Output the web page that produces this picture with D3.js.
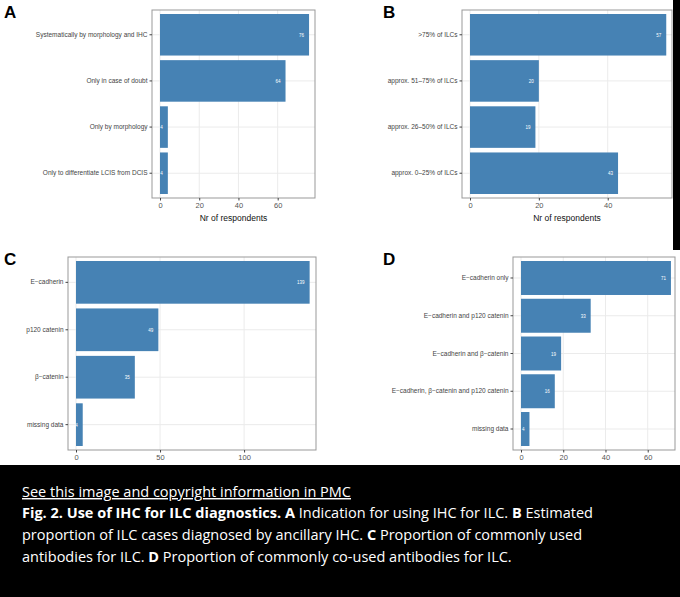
<!DOCTYPE html>
<html><head><meta charset="utf-8">
<script src="https://cdn.jsdelivr.net/npm/d3@7"></script>
<style>body{margin:0;background:#000}svg{display:block}</style>
</head><body><svg id="c" width="680" height="597"></svg>
<script>
const catsA=["Systematically by morphology and IHC","Only in case of doubt","Only by morphology","Only  to differentiate LCIS from DCIS"];
const valsA=[76,64,4,4];
const catsB=[">75% of ILCs","approx. 51\u201375% of ILCs","approx. 26\u201350% of ILCs","approx. 0\u201325% of ILCs"];
const valsB=[57,20,19,43];
const catsC=["E\u2212cadherin","p120 catenin","\u03b2\u2212catenin","missing data"];
const valsC=[139,49,35,4];
const catsD=["E\u2212cadherin only","E\u2212cadherin and p120 catenin","E\u2212cadherin and \u03b2\u2212catenin","E\u2212cadherin, \u03b2\u2212catenin and p120 catenin","missing data"];
const valsD=[71,33,19,16,4];
const ticksA=[0,20,40,60],ticksB=[0,20,40],ticksC=[0,50,100],ticksD=[0,20,40,60];

const svg=d3.select("#c");
svg.append("rect").attr("width",680).attr("height",465).attr("fill","#fff");

function panel(letter,lx,ly,box,cats,vals,ticks,xmax){
  const g=svg.append("g");
  const x=d3.scaleLinear().domain([0,xmax]).range([box.x0+8,box.x1-3]);
  const y=d3.scaleBand().domain(cats).range([box.y0+4,box.y1-4]).paddingInner(0.1);
  g.append("text").attr("x",lx).attr("y",ly).text(letter).attr("font-family","Liberation Sans, Arial").attr("font-weight","bold").attr("font-size",17).attr("fill","#000");
  g.selectAll(".gv").data(ticks).join("line").attr("x1",d=>x(d)).attr("x2",d=>x(d)).attr("y1",box.y0).attr("y2",box.y1).attr("stroke","#ebebeb");
  g.selectAll(".gh").data(cats).join("line").attr("x1",box.x0).attr("x2",box.x1).attr("y1",d=>y(d)+y.bandwidth()/2).attr("y2",d=>y(d)+y.bandwidth()/2).attr("stroke","#ebebeb");
  g.selectAll(".b").data(cats).join("rect").attr("x",x(0)).attr("y",d=>y(d)).attr("width",(d,i)=>x(vals[i])-x(0)).attr("height",y.bandwidth()).attr("fill","#4682b4");
  g.selectAll(".bl").data(cats).join("text").attr("x",(d,i)=>x(vals[i])-5).attr("y",d=>y(d)+y.bandwidth()/2+2).attr("text-anchor","end").attr("font-size",4.5).attr("fill","#fff").attr("font-family","Liberation Sans, Arial").text((d,i)=>vals[i]);
  g.append("rect").attr("x",box.x0).attr("y",box.y0).attr("width",box.x1-box.x0).attr("height",box.y1-box.y0).attr("fill","none").attr("stroke","#999");
  const ya=g.append("g").attr("transform","translate("+box.x0+",0)").call(d3.axisLeft(y).tickSize(2.5).tickPadding(2));
  ya.select(".domain").remove();
  ya.selectAll("text").attr("font-size",6.5).attr("fill","#444").attr("font-family","Liberation Sans, Arial");
  ya.selectAll("line").attr("stroke","#444");
  const xa=g.append("g").attr("transform","translate(0,"+box.y1+")").call(d3.axisBottom(x).tickValues(ticks).tickSize(2.5).tickPadding(2));
  xa.select(".domain").remove();
  xa.selectAll("text").attr("font-size",7.5).attr("fill","#555").attr("font-family","Liberation Sans, Arial");
  xa.selectAll("line").attr("stroke","#444");
  g.append("text").attr("x",(box.x0+box.x1)/2).attr("y",box.y1+23).attr("text-anchor","middle").attr("font-size",8.5).attr("fill","#111").attr("font-family","Liberation Sans, Arial").text("Nr of respondents");
}
panel("A",4,18,{x0:152,x1:315,y0:10,y1:198},catsA,valsA,ticksA,77.5);
panel("B",383,18,{x0:462,x1:672,y0:10,y1:198},catsB,valsB,ticksB,57.8);
panel("C",4,265,{x0:68,x1:316,y0:257,y1:450},catsC,valsC,ticksC,141);
panel("D",383,265,{x0:513,x1:675,y0:257,y1:450},catsD,valsD,ticksD,71.5);
svg.append("rect").attr("x",673).attr("y",0).attr("width",7).attr("height",250).attr("fill","#000");
svg.append("rect").attr("x",0).attr("y",465).attr("width",680).attr("height",132).attr("fill","#000");

const cap=svg.append("g").attr("font-family","Open Sans, Liberation Sans, Arial").attr("font-size",14.5).attr("fill","#fff");
cap.append("text").attr("x",22).attr("y",497).attr("text-decoration","underline").text("See this image and copyright information in PMC");
const l1=cap.append("text").attr("x",22).attr("y",518);
l1.append("tspan").attr("font-weight","bold").text("Fig. 2. Use of IHC for ILC diagnostics.   A");
l1.append("tspan").text(" Indication for using IHC for ILC. ");
l1.append("tspan").attr("font-weight","bold").text("B");
l1.append("tspan").text(" Estimated");
const l2=cap.append("text").attr("x",22).attr("y",540);
l2.append("tspan").text("proportion of ILC cases diagnosed by ancillary IHC. ");
l2.append("tspan").attr("font-weight","bold").text("C");
l2.append("tspan").text(" Proportion of commonly used");
const l3=cap.append("text").attr("x",22).attr("y",562);
l3.append("tspan").text("antibodies for ILC. ");
l3.append("tspan").attr("font-weight","bold").text("D");
l3.append("tspan").text(" Proportion of commonly co-used antibodies for ILC.");
</script></body></html>
